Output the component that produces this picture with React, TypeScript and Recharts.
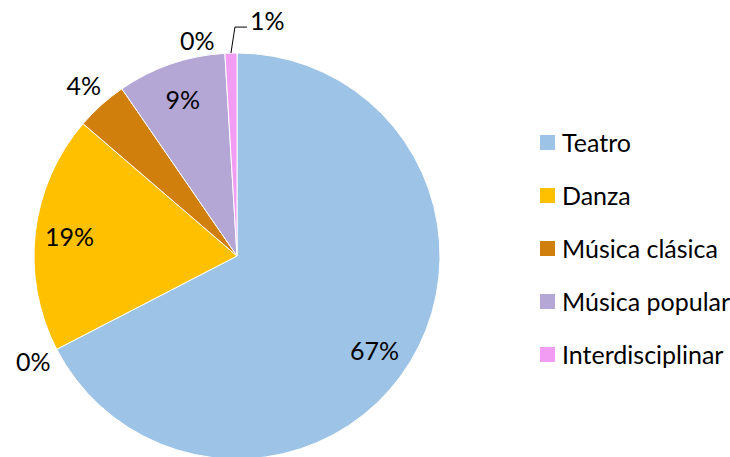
import { PieChart, Pie, Cell } from 'recharts';

const categories = ['Teatro', 'Sin clasificar', 'Danza', 'Música clásica', 'Música popular', 'Otras', 'Interdisciplinar'];
const shares = [67.4, 0, 18.9, 4.1, 8.65, 0, 0.95];
const colors = ['#9DC3E6', '#A5A5A5', '#FFC000', '#D07E0C', '#B4A7D6', '#70AD47', '#F39CF4'];

// label placement per slice: radius factor and angle shift (deg)
const labelPos = [
  { r: 0.82, shift: -3 },
  { r: 1.13, shift: 0 },
  { r: 0.83, shift: 0 },
  { r: 1.13, shift: 0 },
  { r: 0.82, shift: 0 },
  { r: 1.08, shift: 7 },
  { r: 0, shift: 0 },
];

const data = categories.map((name, i) => ({ name, value: shares[i] }));

const FONT = 'Lato, "Open Sans", sans-serif';
const SIZE = 25;
const RAD = Math.PI / 180;

function renderLabel(props: any) {
  const { cx, cy, midAngle, outerRadius, index, value } = props;
  const text = `${Math.round(value)}%`;
  if (index === 6) {
    const ex = cx + outerRadius * Math.cos(-midAngle * RAD);
    const ey = cy + outerRadius * Math.sin(-midAngle * RAD);
    const kx = ex + 4;
    const ky = ey - 26;
    return (
      <g>
        <polyline points={`${ex},${ey} ${kx},${ky} ${kx + 12},${ky}`} fill="none" stroke="#000" strokeWidth={1} />
        <text x={kx + 15} y={ky - 7} fill="#000" fontSize={SIZE} fontFamily={FONT} textAnchor="start" dominantBaseline="central">
          {text}
        </text>
      </g>
    );
  }
  const p = labelPos[index];
  const a = midAngle + p.shift;
  const x = cx + outerRadius * p.r * Math.cos(-a * RAD);
  const y = cy + outerRadius * p.r * Math.sin(-a * RAD);
  return (
    <text x={x} y={y} fill="#000" fontSize={SIZE} fontFamily={FONT} textAnchor="middle" dominantBaseline="central">
      {text}
    </text>
  );
}

function ChartLegend() {
  return (
    <div style={{ position: 'absolute', left: 540, top: 116, fontFamily: FONT, fontSize: SIZE, color: '#000', lineHeight: 1 }}>
      {data.map((d, i) =>
        d.value > 0 ? (
          <div key={d.name} style={{ display: 'flex', alignItems: 'center', height: 53, whiteSpace: 'nowrap' }}>
            <span style={{ width: 15, height: 15, flex: '0 0 15px', background: colors[i], marginRight: 7 }} />
            <span>{d.name}</span>
          </div>
        ) : null
      )}
    </div>
  );
}

export default function App() {
  return (
    <div style={{ position: 'absolute', left: 0, top: 0, width: 730, height: 457, background: '#fff' }}>
      <PieChart width={730} height={457} margin={{ top: 0, right: 0, bottom: 0, left: 0 }}>
        <Pie
          data={data}
          dataKey="value"
          nameKey="name"
          cx={237}
          cy={256}
          outerRadius={203}
          startAngle={90}
          endAngle={-270}
          stroke="#fff"
          strokeWidth={1}
          label={renderLabel}
          labelLine={false}
          isAnimationActive={false}
        >
          {data.map((d, i) => (
            <Cell key={d.name} fill={colors[i]} />
          ))}
        </Pie>
      </PieChart>
      <ChartLegend />
    </div>
  );
}
